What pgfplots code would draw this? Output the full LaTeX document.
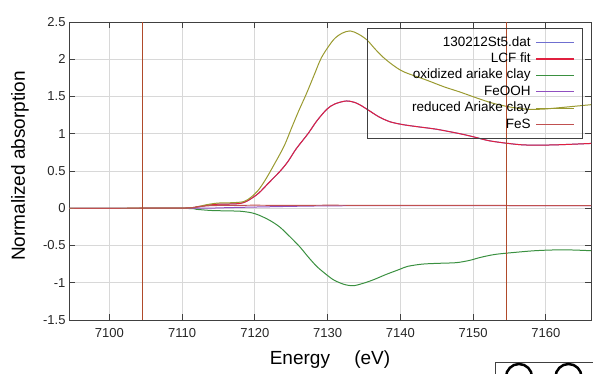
\documentclass[border=0pt]{standalone}
\usepackage{pgfplots}
\pgfplotsset{compat=1.18}
\usepackage{fontspec}
\setmainfont{Liberation Sans}
\definecolor{cData}{HTML}{6F6FD0}
\definecolor{cFit}{HTML}{E0203F}
\definecolor{cOx}{HTML}{3A9040}
\definecolor{cFeOOH}{HTML}{9050C0}
\definecolor{cRed}{HTML}{9A9A30}
\definecolor{cFeS}{HTML}{C05050}
\definecolor{cLim}{HTML}{B04A2A}
\definecolor{cGrid}{HTML}{D8D8D8}
\definecolor{cAxis}{HTML}{404040}
\begin{document}
\begin{tikzpicture}
\useasboundingbox (0bp,0bp) rectangle (593bp,374bp);
\begin{axis}[
  at={(69bp,54bp)}, anchor=south west,
  scale only axis, width=522bp, height=298bp,
  xmin=7094.46, xmax=7166.2, ymin=-1.5, ymax=2.5,
  xtick={7100,7110,7120,7130,7140,7150,7160},
  ytick={-1.5,-1,-0.5,0,0.5,1,1.5,2,2.5},
  yticklabels={-1.5,-1,-0.5,0,0.5,1,1.5,2,2.5},
  /pgf/number format/assume math mode=true,
  /pgf/number format/set thousands separator={},
  tick align=inside, major tick length=6bp,
  every tick/.style={cAxis, line width=1pt},
  axis line style={cAxis, line width=1pt},
  grid=major, major grid style={cGrid, line width=1pt},
  ticklabel style={font=\fontsize{13bp}{15bp}\selectfont, text=black!85},
  xticklabel style={yshift=-5bp},
  xlabel={Energy\quad\ (eV)},
  ylabel={Normalized absorption},
  label style={font=\fontsize{19bp}{22bp}\selectfont},
  xlabel style={at={(axis description cs:0.5,-0.151)}, anchor=base},
  ylabel style={at={(axis description cs:-0.0843,0.517)}, anchor=base, rotate=0},
  legend style={at={(axis description cs:0.985,0.980)}, anchor=north east,
    draw=cAxis, fill=none, line width=0.8pt, font=\fontsize{13.5bp}{15bp}\selectfont,
    inner xsep=4bp, inner ysep=6bp, column sep=3bp,
    nodes={inner xsep=2bp, inner ysep=1.7bp, text height=10bp, text depth=3bp}},
  legend cell align=right, legend plot pos=right,
  legend image code/.code={\draw[#1, sharp plot, line width=1.2pt] (0bp,0bp) -- (38bp,0bp); \path (42bp,0bp);},
  every axis plot/.append style={line width=1pt, smooth, tension=0.5},
  clip=true,
]
\addplot[cData] coordinates {
(7094.5,0) (7104,0) (7110,0.002) (7112,0.015) (7113.5,0.04) (7115,0.055) (7116.5,0.057)
(7118,0.065) (7119,0.10) (7120.5,0.20) (7122,0.35) (7123.4,0.49) (7124.5,0.62) (7125.7,0.80)
(7127.3,1.00) (7128.5,1.17) (7129.9,1.33) (7131,1.40) (7132.6,1.44) (7134,1.41) (7135.4,1.33)
(7137,1.23) (7138.6,1.16) (7140.5,1.12) (7142.7,1.09) (7145,1.06) (7148.2,1.00) (7150,0.96)
(7152,0.91) (7154,0.88) (7157,0.85) (7161,0.85) (7166.2,0.87)};
\addlegendentry{\makebox[157bp][r]{130212St5.dat}}
\addplot[cFit] coordinates {
(7094.5,0) (7104,0) (7110,0.002) (7112,0.015) (7113.5,0.04) (7115,0.055) (7116.5,0.057)
(7118,0.065) (7119,0.10) (7120.5,0.20) (7122,0.35) (7123.4,0.49) (7124.5,0.62) (7125.7,0.80)
(7127.3,1.00) (7128.5,1.17) (7129.9,1.33) (7131,1.40) (7132.6,1.44) (7134,1.41) (7135.4,1.33)
(7137,1.23) (7138.6,1.16) (7140.5,1.12) (7142.7,1.09) (7145,1.06) (7148.2,1.00) (7150,0.96)
(7152,0.91) (7154,0.88) (7157,0.85) (7161,0.85) (7166.2,0.87)};
\addlegendentry{\makebox[157bp][r]{LCF fit}}
\addplot[cOx] coordinates {
(7094.5,0) (7110,-0.002) (7112,-0.015) (7114,-0.03) (7116,-0.035) (7118,-0.04) (7119.5,-0.06)
(7120.5,-0.09) (7122,-0.16) (7123.4,-0.25) (7124.8,-0.38) (7126.2,-0.52) (7127.3,-0.65)
(7128.5,-0.78) (7129.7,-0.88) (7130.8,-0.96) (7132.2,-1.02) (7133.5,-1.04) (7134.8,-1.01)
(7136.3,-0.96) (7138,-0.89) (7139.9,-0.82) (7141,-0.78) (7143,-0.75) (7145,-0.74) (7147.7,-0.73)
(7149.5,-0.70) (7151,-0.66) (7153,-0.62) (7156,-0.59) (7158.5,-0.57) (7161,-0.56) (7163.5,-0.56)
(7166.2,-0.57)};
\addlegendentry{\makebox[157bp][r]{oxidized ariake clay}}
\addplot[cFeOOH] coordinates {
(7094.5,0) (7112,0) (7115,0.005) (7118,0.012) (7122,0.02) (7128,0.03) (7135,0.035) (7145,0.035) (7166.2,0.035)};
\addlegendentry{\makebox[157bp][r]{FeOOH}}
\addplot[cRed] coordinates {
(7094.5,0) (7110,0.002) (7112,0.02) (7113.5,0.05) (7115,0.07) (7117,0.075) (7118.5,0.09)
(7119.5,0.15) (7120.5,0.245) (7121.5,0.39) (7122.5,0.56) (7124,0.83) (7125.1,1.09) (7126,1.30)
(7127.1,1.54) (7128.2,1.80) (7129.2,2.03) (7130.8,2.26) (7132,2.35) (7133.1,2.38) (7134.2,2.34)
(7135.4,2.26) (7136.5,2.14) (7137.6,2.03) (7139,1.92) (7140.5,1.83) (7143.6,1.72) (7146,1.63)
(7148.2,1.56) (7150.5,1.48) (7152.7,1.41) (7155,1.36) (7157.3,1.33) (7159.5,1.33) (7161.9,1.35)
(7166.2,1.39)};
\addlegendentry{\makebox[157bp][r]{reduced Ariake clay}}
\addplot[cFeS] coordinates {
(7094.5,0) (7110,0.002) (7112,0.02) (7114,0.035) (7118,0.04) (7125,0.04) (7135,0.04) (7166.2,0.035)};
\addlegendentry{\makebox[157bp][r]{FeS}}
\addplot[cLim, line width=1.3pt, sharp plot, forget plot] coordinates {(7104.6,-1.5) (7104.6,2.5)};
\addplot[cLim, line width=1.3pt, sharp plot, forget plot] coordinates {(7154.6,-1.5) (7154.6,2.5)};
\end{axis}
\draw[cAxis, line width=0.8pt] (600bp,-10bp) -- (495bp,-10bp) -- (495bp,11.7bp) -- (600bp,11.7bp);
\draw[black, line width=2.5pt] (519bp,-3bp) circle (13bp);
\draw[black, line width=2.5pt] (568.5bp,-3bp) circle (13bp);
\end{tikzpicture}
\end{document}
